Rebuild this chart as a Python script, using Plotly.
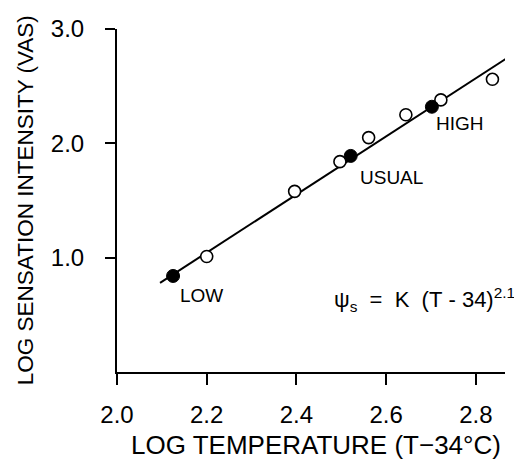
import plotly.graph_objects as go

# open-circle observations
open_x = [2.200, 2.396, 2.497, 2.561, 2.644, 2.722, 2.837]
open_y = [1.01, 1.58, 1.84, 2.05, 2.25, 2.38, 2.56]

# filled conditions: LOW, USUAL, HIGH
cond_names = ["LOW", "USUAL", "HIGH"]
cond_x = [2.125, 2.521, 2.702]
cond_y = [0.84, 1.89, 2.32]

# fitted line endpoints
fit_x = [2.096, 2.875]
fit_y = [0.78, 2.76]

x_ticks = [2.0, 2.2, 2.4, 2.6, 2.8]
x_labels = ["2.0", "2.2", "2.4", "2.6", "2.8"]
y_ticks = [1.0, 2.0, 3.0]
y_labels = ["1.0", "2.0", "3.0"]

FONT = "Liberation Sans"
NB = "\u00a0"

fig = go.Figure()
fig.add_trace(go.Scatter(x=fit_x, y=fit_y, mode="lines",
                         line=dict(color="black", width=2), cliponaxis=False,
                         showlegend=False, hoverinfo="skip"))
fig.add_trace(go.Scatter(x=open_x, y=open_y, mode="markers",
                         marker=dict(size=12, color="white",
                                     line=dict(color="black", width=1.6)),
                         cliponaxis=False, showlegend=False))
fig.add_trace(go.Scatter(x=cond_x, y=cond_y, mode="markers", text=cond_names,
                         marker=dict(size=13, color="black",
                                     line=dict(color="black", width=1)),
                         cliponaxis=False, showlegend=False))

label_pos = {"LOW": (2.189, 0.665), "USUAL": (2.612, 1.70), "HIGH": (2.764, 2.17)}
for name in cond_names:
    lx, ly = label_pos[name]
    fig.add_annotation(x=lx, y=ly, xref="x", yref="y", text=name, showarrow=False,
                       font=dict(family=FONT, size=19, color="black"))

formula = ("ψ<sub>s</sub>" + NB + NB + "=" + NB + NB + "K" + NB + NB
           + "(T" + NB + "-" + NB + "34)<sup>2.1</sup>")
fig.add_annotation(x=2.0 + (425 - 117) / 449, y=0.63, xref="x", yref="y",
                   xanchor="center", yanchor="middle",
                   text=formula, showarrow=False,
                   font=dict(family=FONT, size=22, color="black"))

# axis titles
fig.add_annotation(x=0.513, y=-0.213, xref="paper", yref="paper",
                   xanchor="center", yanchor="middle",
                   text="LOG TEMPERATURE (T\u221234°C)", showarrow=False,
                   font=dict(family=FONT, size=26, color="black"))
fig.add_annotation(x=-0.237, y=0.501, xref="paper", yref="paper", textangle=-90,
                   xanchor="center", yanchor="middle",
                   text="LOG SENSATION INTENSITY (VAS)", showarrow=False,
                   font=dict(family=FONT, size=22.5, color="black"))

fig.update_xaxes(range=[2.0, 2.865], tickvals=x_ticks, ticktext=x_labels,
                 showline=True, linecolor="black", linewidth=2,
                 ticks="outside", ticklen=11, tickwidth=2, tickcolor="black",
                 showgrid=False, zeroline=False, automargin=False,
                 ticklabelstandoff=9,
                 tickfont=dict(family=FONT, size=24, color="black"))
fig.update_yaxes(range=[0, 3.0], tickvals=y_ticks, ticktext=y_labels,
                 showline=True, linecolor="black", linewidth=2,
                 ticks="outside", ticklen=10, tickwidth=2, tickcolor="black",
                 showgrid=False, zeroline=False, ticklabelstandoff=16,
                 automargin=False,
                 tickfont=dict(family=FONT, size=24, color="black"))

# page body has an 8px margin; compensate so the plot lands where the reference has it
fig.update_layout(width=514, height=458, plot_bgcolor="white", paper_bgcolor="white",
                  margin=dict(l=109, r=17, t=21, b=94), showlegend=False)

fig.write_html("out.html")
